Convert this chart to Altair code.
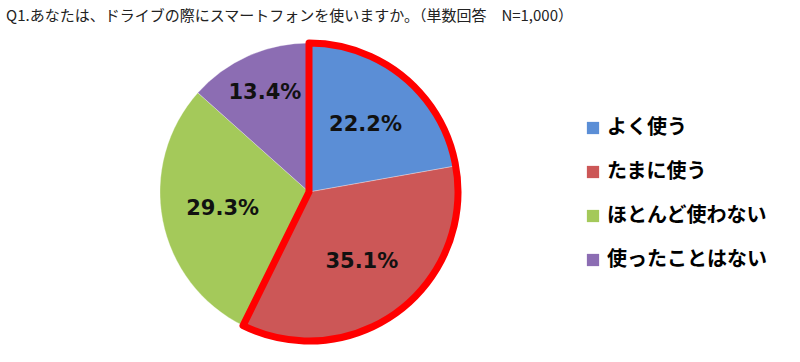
import altair as alt
import pandas as pd

categories = ["よく使う", "たまに使う", "ほとんど使わない", "使ったことはない"]
values = [22.2, 35.1, 29.3, 13.4]
labels = ["22.2%", "35.1%", "29.3%", "13.4%"]
colors = ["#5B8ED6", "#CC5757", "#A4C95A", "#8C6DB3"]
highlighted = ["よく使う", "たまに使う"]

df = pd.DataFrame({
    "category": categories,
    "value": values,
    "label": labels,
    "order": list(range(len(categories))),
})

# outline group: highlighted slices merged into one sector
hl_total = sum(v for c, v in zip(categories, values) if c in highlighted)
rest = [(c, v) for c, v in zip(categories, values) if c not in highlighted]
df_hl = pd.DataFrame({
    "grp": ["hl"] + [c for c, _ in rest],
    "value": [hl_total] + [v for _, v in rest],
    "order": list(range(1 + len(rest))),
    "show": [1] + [0] * len(rest),
})

CX, CY, R = 309, 160, 149

base = alt.Chart(df).encode(
    theta=alt.Theta("value:Q", stack=True),
    order=alt.Order("order:Q"),
    x=alt.value(CX),
    y=alt.value(CY),
)

pie = base.mark_arc(outerRadius=R, stroke="#ffffff", strokeWidth=0.6, strokeOpacity=0.5).encode(
    color=alt.Color(
        "category:N",
        sort=categories,
        scale=alt.Scale(domain=categories, range=colors),
        legend=alt.Legend(
            title=None,
            orient="none",
            legendX=583,
            legendY=86,
            symbolType="square",
            symbolSize=150,
            symbolStrokeWidth=0,
            labelFont="Noto Sans CJK JP",
            labelFontSize=20,
            labelFontWeight="bold",
            labelColor="#000000",
            labelOffset=4,
            rowPadding=24,
        ),
    )
)

outline = alt.Chart(df_hl).mark_arc(outerRadius=R, fillOpacity=0, stroke="#FF0000", strokeWidth=7, strokeJoin="round").encode(
    theta=alt.Theta("value:Q", stack=True),
    order=alt.Order("order:Q"),
    strokeOpacity=alt.StrokeOpacity("show:Q", scale=None),
    x=alt.value(CX),
    y=alt.value(CY),
)

text = alt.Chart(df).transform_joinaggregate(
    total="sum(value)"
).transform_window(
    cum="sum(value)", sort=[alt.SortField("order")], frame=[None, 0]
).transform_calculate(
    mid="(datum.cum - datum.value / 2) / datum.total * 2 * PI",
    lr="datum.value < 20 ? 108 : 88",
).mark_text(
    font="DejaVu Sans", fontSize=21, fontWeight="bold", color="#111111"
).encode(
    text="label:N",
    theta=alt.Theta("mid:Q", scale=None),
    radius=alt.Radius("lr:Q", scale=None),
    x=alt.value(CX),
    y=alt.value(CY),
)

chart = alt.layer(pie, outline, text).properties(
    width=800,
    height=330,
    autosize=alt.AutoSizeParams(type="none"),
    padding={"left": 0, "top": 32, "right": 0, "bottom": 0},
    title=alt.Title(
        "Q1.あなたは、ドライブの際にスマートフォンを使いますか。（単数回答　N=1,000）",
        anchor="start",
        font="Noto Sans CJK JP",
        fontSize=15,
        fontWeight="normal",
        color="#222222",
        dx=6,
        offset=8,
    ),
).configure_view(stroke=None)

chart.save("out.html", embed_options={"renderer": "svg", "actions": False})
